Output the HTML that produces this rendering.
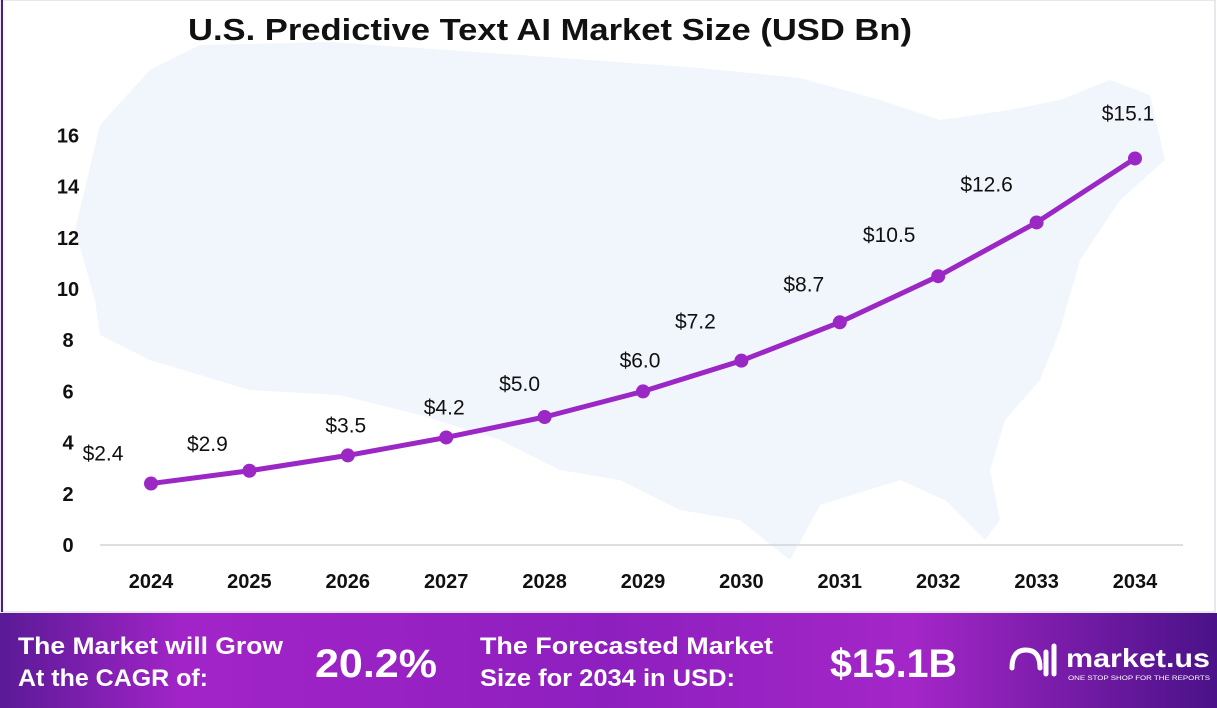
<!DOCTYPE html>
<html><head><meta charset="utf-8">
<style>
body{margin:0;width:1217px;height:708px;overflow:hidden;background:#fff;font-family:"Liberation Sans",sans-serif;}
svg{display:block}
</style></head>
<body>
<svg width="1217" height="708" viewBox="0 0 1217 708">
<defs>
<linearGradient id="fg" x1="0" x2="1" y1="0" y2="0">
<stop offset="0" stop-color="#5a1a96"/><stop offset="0.15" stop-color="#a224c8"/><stop offset="0.5" stop-color="#8e1fbf"/><stop offset="0.75" stop-color="#a426c8"/><stop offset="1" stop-color="#4a1288"/>
</linearGradient>
</defs>
<rect x="0" y="0" width="1217" height="708" fill="#fff"/>
<rect x="1" y="0" width="1214" height="612" fill="none" stroke="#d0d0d8" stroke-width="1"/>
<line x1="2" y1="0" x2="2" y2="612" stroke="#4b1a8c" stroke-width="2"/>
<path fill="#f1f5fc" d="M100,125 L150,70 L200,45 L330,42 L520,55 L700,68 L800,78 L880,100 L940,120 L1010,110 L1060,100 L1110,80 L1150,95 L1165,160 L1120,200 L1080,260 L1060,330 L1040,380 L1005,420 L990,470 L1000,520 L985,540 L945,500 L900,480 L820,505 L790,560 L740,520 L680,510 L620,480 L560,470 L500,440 L420,415 L340,395 L250,390 L150,360 L100,335 L95,300 L75,230 Z"/>
<text x="188" y="40" textLength="724" lengthAdjust="spacingAndGlyphs" font-size="31" font-weight="bold" fill="#111">U.S. Predictive Text AI Market Size (USD Bn)</text>
<g id="axes"></g>
<g id="series"></g>
<rect x="0" y="613" width="1217" height="95" fill="url(#fg)"/>
<text x="18" y="654" textLength="265" lengthAdjust="spacingAndGlyphs" font-size="24" font-weight="bold" fill="#fff">The Market will Grow</text>
<text x="18" y="686" textLength="190" lengthAdjust="spacingAndGlyphs" font-size="24" font-weight="bold" fill="#fff">At the CAGR of:</text>
<text x="315" y="677" textLength="122" lengthAdjust="spacingAndGlyphs" font-size="40" font-weight="bold" fill="#fff">20.2%</text>
<text x="480" y="654" textLength="293" lengthAdjust="spacingAndGlyphs" font-size="24" font-weight="bold" fill="#fff">The Forecasted Market</text>
<text x="480" y="686" textLength="255" lengthAdjust="spacingAndGlyphs" font-size="24" font-weight="bold" fill="#fff">Size for 2034 in USD:</text>
<text x="830" y="677" textLength="127" lengthAdjust="spacingAndGlyphs" font-size="40" font-weight="bold" fill="#fff">$15.1B</text>
<g>
<path d="M1012,668 q0,-18 14,-18 q14,0 14,18 M1046,652 v22 M1054,646 v28" stroke="#fff" stroke-width="5" fill="none" stroke-linecap="round"/>
<text x="1066" y="667" textLength="144" lengthAdjust="spacingAndGlyphs" font-size="26" font-weight="bold" fill="#fff">market.us</text>
<text x="1068" y="680" textLength="142" lengthAdjust="spacingAndGlyphs" font-size="6.5" fill="#fff">ONE STOP SHOP FOR THE REPORTS</text>
</g>
</svg>
<script>
const years=["2024","2025","2026","2027","2028","2029","2030","2031","2032","2033","2034"];
const values=[2.4,2.9,3.5,4.2,5.0,6.0,7.2,8.7,10.5,12.6,15.1];
const valueLabels=["$2.4","$2.9","$3.5","$4.2","$5.0","$6.0","$7.2","$8.7","$10.5","$12.6","$15.1"];
const yTicks=[0,2,4,6,8,10,12,14,16];
const labelDx=[-48,-42,-2,-2,-25,-3,-46,-36,-49,-50,-7];
const labelDy=[-30,-27,-30,-30,-33,-31,-39,-38,-41,-38,-45];
const NS="http://www.w3.org/2000/svg";
function xs(i){return 151+i*98.4;}
function ys(v){return 545-v*25.6;}
function mk(tag,attrs,parent,txt){const e=document.createElementNS(NS,tag);for(const k in attrs)e.setAttribute(k,attrs[k]);if(txt!==undefined)e.textContent=txt;parent.appendChild(e);return e;}
const ax=document.getElementById('axes'),sr=document.getElementById('series');
const base=mk('line',{x1:100,y1:545,x2:1183,y2:545,stroke:'#d4d4d4','stroke-width':1.5},ax);


yTicks.forEach(t=>{
 const e=mk('text',{x:68,y:ys(t)+7,'text-anchor':'middle','font-size':20,'font-weight':'bold',fill:'#111'},ax,String(t));
 
 
});
years.forEach((y,i)=>{
 const e=mk('text',{x:xs(i),y:588,'text-anchor':'middle','font-size':20,'font-weight':'bold',fill:'#111'},ax,y);
 
 
});
const pts=values.map((v,i)=>xs(i)+','+ys(v)).join(' ');
const line=mk('polyline',{points:pts,fill:'none',stroke:'#9b27c4','stroke-width':5,'stroke-linejoin':'round'},sr);


values.forEach((v,i)=>{
 const c=mk('circle',{cx:xs(i),cy:ys(v),r:7,fill:'#9b27c4'},sr);
 
 
 const t=mk('text',{x:xs(i)+labelDx[i],y:ys(v)+labelDy[i]+7,'text-anchor':'middle','font-size':21,fill:'#111'},sr,valueLabels[i]);
 
 
});
</script>
</body></html>
